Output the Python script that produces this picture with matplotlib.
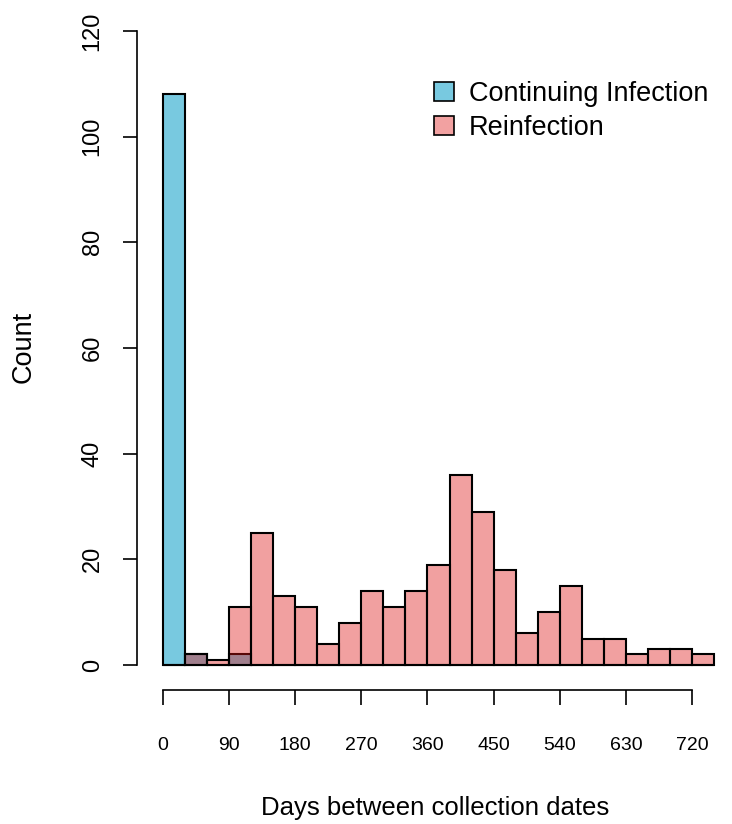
import numpy as np
import matplotlib.pyplot as plt
from matplotlib.patches import Patch

# data: 30-day bins starting at 0
bin_width = 30
bin_start = np.arange(0, 750, bin_width)
continuing = [108, 2, 0, 2, 0, 0, 0, 0, 0, 0, 0, 0, 0, 0, 0, 0, 0, 0, 0, 0, 0, 0, 0, 0, 0]
reinfection = [0, 2, 1, 11, 25, 13, 11, 4, 8, 14, 11, 14, 19, 36, 29, 18, 6, 10, 15, 5, 5, 2, 3, 3, 2]
x_ticks = np.arange(0, 721, 90)
y_ticks = np.arange(0, 121, 20)

blue = (0.47, 0.79, 0.88)
red_alpha = (0.87, 0.07, 0.07, 0.4)
pink_legend = (0.95, 0.63, 0.63)

plt.rcParams['font.family'] = ['Liberation Sans', 'DejaVu Sans']

W, H = 732, 824
fig = plt.figure(figsize=(W / 100, H / 100), dpi=100)

# axes in pixel coords: left 137, right 729, top 25, bottom 690
ax = fig.add_axes([137 / W, 1 - 690 / H, (729 - 137) / W, (690 - 25) / H])
ax.set_xlim(-35.4, 770.4)
ax.set_ylim(-4.73, 121.1)

ax.bar(bin_start, continuing, width=bin_width, align='edge',
       color=blue, edgecolor='black', linewidth=1.5)
ax.bar(bin_start, reinfection, width=bin_width, align='edge',
       facecolor=red_alpha, edgecolor='black', linewidth=1.5)

# R-like detached axes
for s in ['top', 'right']:
    ax.spines[s].set_visible(False)
ax.spines['left'].set_bounds(0, 120)
ax.spines['bottom'].set_bounds(0, 720)
ax.spines['left'].set_linewidth(1.2)
ax.spines['bottom'].set_linewidth(1.2)

ax.set_xticks(x_ticks)
ax.set_yticks(y_ticks)
ax.tick_params(axis='x', length=11, width=1.2, pad=23, labelsize=14)
ax.tick_params(axis='y', length=10, width=1.2, pad=14, labelsize=17)
for lab in ax.get_yticklabels():
    lab.set_rotation(90)
    lab.set_va('center')

ax.set_xlabel('Days between collection dates', fontsize=18.5, va='center')
ax.xaxis.set_label_coords(0.504, -0.177)
ax.set_ylabel('Count', fontsize=19.5, va='center')
ax.yaxis.set_label_coords(-0.191, 0.516)

handles = [Patch(facecolor=blue, edgecolor='black', linewidth=1.2),
           Patch(facecolor=pink_legend, edgecolor='black', linewidth=1.2)]
ax.legend(handles, ['Continuing Infection', 'Reinfection'],
          loc='upper left', bbox_to_anchor=(415 / W, 1 - 62 / H),
          bbox_transform=fig.transFigure, frameon=False, fontsize=19.5,
          handlelength=0.74, handleheight=0.7, handletextpad=0.55,
          labelspacing=0.3, borderpad=0.2)

fig.savefig('out.png', dpi=100)
